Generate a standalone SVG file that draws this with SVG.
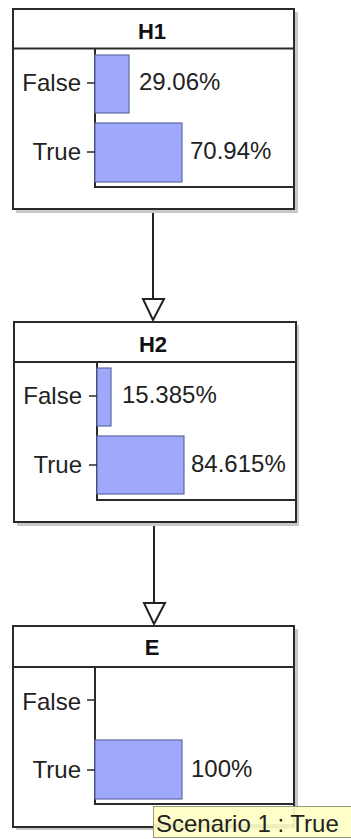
<svg xmlns="http://www.w3.org/2000/svg" width="351" height="839" viewBox="0 0 351 839">
<style>
.frame{fill:#fff;stroke:#2a2a2a;stroke-width:2}
.shadow{fill:#c8c8c8}
.sep{stroke:#2a2a2a;stroke-width:2;fill:none}
.axis{stroke:#2a2a2a;stroke-width:2;fill:none}
.tick{stroke:#2a2a2a;stroke-width:1.5}
.bar{fill:#9fa9fb;stroke:#5f6aa8;stroke-width:1.2}
.title{font-family:"Liberation Sans",Arial,sans-serif;font-size:22px;font-weight:bold;fill:#111;text-anchor:middle}
.lbl{font-family:"Liberation Sans",Arial,sans-serif;font-size:24px;fill:#222;text-anchor:end}
.pct{font-family:"Liberation Sans",Arial,sans-serif;font-size:24px;fill:#222}
.edge{stroke:#222;stroke-width:2;fill:none}
.head{fill:#fff;stroke:#222;stroke-width:2}
</style>
<rect width="351" height="839" fill="#fff"/>
<g id="connectors">
<line class="edge" x1="153" y1="209" x2="153" y2="300"/>
<polygon class="head" points="143,299 164,299 153,320"/>
<line class="edge" x1="154" y1="522" x2="154" y2="603"/>
<polygon class="head" points="144,603 165,603 154,624"/>
</g>
<g id="H1">
<rect class="shadow" x="16" y="12" width="282" height="201"/>
<rect class="frame" x="13" y="9" width="281" height="200"/>
<line class="sep" x1="13" y1="48.5" x2="294" y2="48.5"/>
<text class="title" x="152" y="39">H1</text>
<polyline class="axis" points="95,49 95,187 294,187"/>
<rect class="bar" x="95" y="55" width="34" height="58"/>
<rect class="bar" x="95" y="123" width="87" height="59"/>
<line class="tick" x1="87" y1="83" x2="95" y2="83"/>
<line class="tick" x1="87" y1="152" x2="95" y2="152"/>
<text class="lbl" x="81" y="91">False</text>
<text class="lbl" x="81" y="160">True</text>
<text class="pct" x="139" y="90">29.06%</text>
<text class="pct" x="190" y="159">70.94%</text>
</g>
<g id="H2">
<rect class="shadow" x="17" y="325" width="282" height="201"/>
<rect class="frame" x="14" y="322" width="282" height="200"/>
<line class="sep" x1="14" y1="362" x2="296" y2="362"/>
<text class="title" x="153" y="352">H2</text>
<polyline class="axis" points="97,362 97,500 296,500"/>
<rect class="bar" x="97" y="368" width="14" height="58"/>
<rect class="bar" x="97" y="436" width="87" height="58"/>
<line class="tick" x1="89" y1="396" x2="97" y2="396"/>
<line class="tick" x1="89" y1="465" x2="97" y2="465"/>
<text class="lbl" x="82" y="404">False</text>
<text class="lbl" x="82" y="473">True</text>
<text class="pct" x="122" y="403">15.385%</text>
<text class="pct" x="191" y="472">84.615%</text>
</g>
<g id="E">
<rect class="shadow" x="16" y="629" width="282" height="201"/>
<rect class="frame" x="13" y="626" width="281" height="201"/>
<line class="sep" x1="13" y1="667" x2="294" y2="667"/>
<text class="title" x="152" y="655">E</text>
<polyline class="axis" points="95,667 95,804 294,804"/>
<rect class="bar" x="95" y="740" width="87" height="59"/>
<line class="tick" x1="87" y1="700" x2="95" y2="700"/>
<line class="tick" x1="87" y1="770" x2="95" y2="770"/>
<text class="lbl" x="81" y="710">False</text>
<text class="lbl" x="81" y="778">True</text>
<text class="pct" x="191" y="777">100%</text>
</g>
<g id="tooltip">
<rect x="153.5" y="806.5" width="200" height="31" fill="#ffffc4" fill-opacity="0.92" stroke="#9a9a7a" stroke-width="1"/>
<line x1="153" y1="825" x2="294" y2="825" stroke="#2a2a2a" stroke-opacity="0.15" stroke-width="1"/>
<text x="156" y="832" font-family="'Liberation Sans',Arial,sans-serif" font-size="24" fill="#222">Scenario 1 : True</text>
</g>
</svg>
